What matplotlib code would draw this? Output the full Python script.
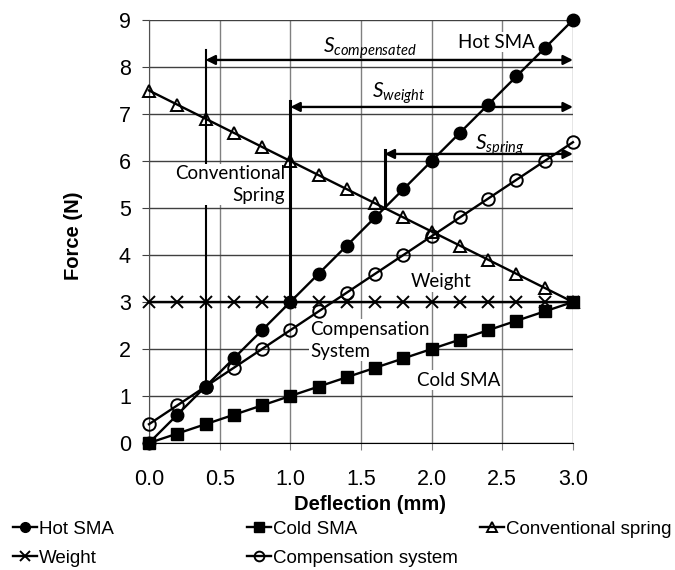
import matplotlib
matplotlib.use("Agg")
import matplotlib.pyplot as plt

plt.rcParams.update({
    "font.family": ["Liberation Sans", "DejaVu Sans"],
    "mathtext.fontset": "custom",
    "mathtext.it": "Lato:italic",
    "mathtext.rm": "Lato",
})

# data
deflection = [0.0, 0.2, 0.4, 0.6, 0.8, 1.0, 1.2, 1.4, 1.6, 1.8, 2.0, 2.2, 2.4, 2.6, 2.8, 3.0]
hot_sma = [0.0, 0.6, 1.2, 1.8, 2.4, 3.0, 3.6, 4.2, 4.8, 5.4, 6.0, 6.6, 7.2, 7.8, 8.4, 9.0]
cold_sma = [0.0, 0.2, 0.4, 0.6, 0.8, 1.0, 1.2, 1.4, 1.6, 1.8, 2.0, 2.2, 2.4, 2.6, 2.8, 3.0]
conv_spring = [7.5, 7.2, 6.9, 6.6, 6.3, 6.0, 5.7, 5.4, 5.1, 4.8, 4.5, 4.2, 3.9, 3.6, 3.3, 3.0]
weight = [3.0, 3.0, 3.0, 3.0, 3.0, 3.0, 3.0, 3.0, 3.0, 3.0, 3.0, 3.0, 3.0, 3.0, 3.0, 3.0]
compensation = [0.4, 0.8, 1.2, 1.6, 2.0, 2.4, 2.8, 3.2, 3.6, 4.0, 4.4, 4.8, 5.2, 5.6, 6.0, 6.4]

x_ticks = [0.0, 0.5, 1.0, 1.5, 2.0, 2.5, 3.0]

# stroke annotations: (x, y_low, y_high), arrow (x_start, y), labels
stroke_lines = [(0.4, 1.2, 8.36), (1.0, 3.0, 7.28), (1.667, 5.0, 6.23)]
stroke_arrows = [(0.4, 8.15), (1.0, 7.15), (1.667, 6.15)]
stroke_labels = [r"$S_{compensated}$", r"$S_{weight}$", r"$S_{spring}$"]
stroke_label_pos = [(1.56, 8.40), (1.77, 7.45), (2.48, 6.34)]

fig = plt.figure(figsize=(6.75, 5.7), dpi=100)
ax = fig.add_axes([0.2207, 0.2228, 0.6281, 0.7421])

ax.set_xlim(0, 3.0)
ax.set_ylim(0, 9)
ax.set_xticks(x_ticks)
ax.set_xticklabels([f"{v:.1f}" for v in x_ticks])
ax.set_yticks(range(10))
ax.grid(True, axis="x", color="#808080", lw=1)
ax.grid(True, axis="y", color="#404040", lw=1)
ax.tick_params(axis="x", direction="out", length=5, color="#808080", labelsize=15.5, pad=14)
ax.tick_params(axis="y", direction="out", length=5, color="#404040", labelsize=15.5, pad=8)
for side in ["top", "right"]:
    ax.spines[side].set_visible(False)
ax.spines["left"].set_color("#505050")
ax.spines["bottom"].set_color("black")
ax.set_axisbelow(True)

ax.set_xlabel("Deflection (mm)", fontweight="bold", fontsize=14.5)
ax.xaxis.set_label_coords(0.521, -0.122)
ax.set_ylabel("Force (N)", fontweight="bold", fontsize=14.5)
ax.yaxis.set_label_coords(-0.155, 0.49)

kw = dict(color="black", lw=1.7, clip_on=False, zorder=4)
h_hot, = ax.plot(deflection, hot_sma, "o-", ms=9, mfc="black", mec="black", **kw)
h_cold, = ax.plot(deflection, cold_sma, "s-", ms=8.5, mfc="black", mec="black", **kw)
h_spr, = ax.plot(deflection, conv_spring, "^-", ms=8.5, mfc="none", mec="black", mew=1.4, **kw)
h_wt, = ax.plot(deflection, weight, "x-", ms=8, mec="black", mew=1.4, **kw)
h_comp, = ax.plot(deflection, compensation, "o-", ms=9, mfc="none", mec="black", mew=1.4, **kw)

# stroke lines and arrows
for (x, y0, y1), w in zip(stroke_lines, [1.5, 2.2, 2.2]):
    ax.plot([x, x], [y0, y1], color="black", lw=w, zorder=3)
for x, y in stroke_arrows:
    ax.annotate("", xy=(3.0, y), xytext=(x, y),
                arrowprops=dict(arrowstyle="<|-|>", color="black", lw=1.7,
                                mutation_scale=14, shrinkA=0, shrinkB=0), zorder=3)
for s, (x, y) in zip(stroke_labels, stroke_label_pos):
    ax.text(x, y, s, fontsize=15, ha="center", va="center", zorder=3)

box = dict(facecolor="white", edgecolor="none", pad=1)
tkw = dict(fontsize=13.5, family="Lato", zorder=3, bbox=box)
ax.text(2.46, 8.53, "Hot SMA", ha="center", va="center", **tkw)
ax.text(0.962, 5.5, "Conventional\nSpring", ha="right", va="center",
        multialignment="right", linespacing=1.35, **tkw)
ax.text(2.07, 3.43, "Weight", ha="center", va="center", **tkw)
ax.text(1.14, 2.19, "Compensation\nSystem", ha="left", va="center",
        multialignment="left", linespacing=1.35, **tkw)
ax.text(2.19, 1.34, "Cold SMA", ha="center", va="center", **tkw)

# legend entries placed like the source (three columns, two rows)
lkw = dict(frameon=False, fontsize=13.5, handlelength=1.3, handletextpad=0.1,
           borderaxespad=0, borderpad=0, loc="center left")
entries = [(h_hot, "Hot SMA", 0.019, 0.072), (h_cold, "Cold SMA", 0.366, 0.072),
           (h_spr, "Conventional spring", 0.711, 0.072), (h_wt, "Weight", 0.019, 0.021),
           (h_comp, "Compensation system", 0.366, 0.021)]
for h, lab, lx, ly in entries:
    leg = fig.legend([h], [lab], bbox_to_anchor=(lx, ly), **lkw)
    for line in leg.get_lines():
        line.set_markersize(7)

fig.savefig("out.png", dpi=100)
